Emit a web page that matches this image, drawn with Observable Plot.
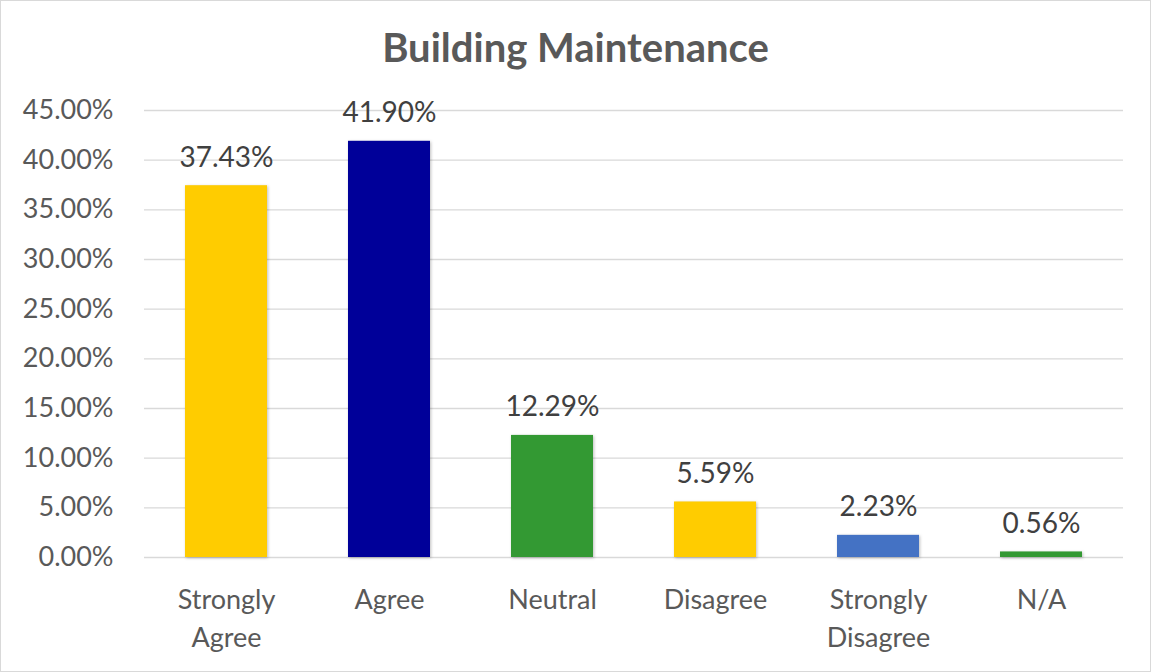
<!DOCTYPE html>
<html>
<head>
<meta charset="utf-8">
<script src="https://cdn.jsdelivr.net/npm/d3@7"></script>
<script src="https://cdn.jsdelivr.net/npm/@observablehq/plot@0.6"></script>
<style>
  html, body { margin: 0; padding: 0; background: #fff; }
  #chart {
    width: 1149px; height: 670px;
    border: 1px solid #d9d9d9;
    font-family: Lato, "Open Sans", sans-serif;
    position: relative; overflow: hidden;
  }
  #title {
    height: 89px; line-height: 92px;
    text-align: center; font-weight: bold; font-size: 40px; color: #595959;
  }
  .bars rect { filter: drop-shadow(1px 1px 1.5px rgba(0,0,0,0.25)); }
</style>
</head>
<body>
<div id="chart"><div id="title">Building Maintenance</div></div>
<script>
const categories = ["Strongly\nAgree", "Agree", "Neutral", "Disagree", "Strongly\nDisagree", "N/A"];
const values = [37.43, 41.90, 12.29, 5.59, 2.23, 0.56];
const colors = ["#FFCC00", "#000099", "#339933", "#FFCC00", "#4472C4", "#339933"];
const yTicks = [0, 5, 10, 15, 20, 25, 30, 35, 40, 45];

const data = categories.map((c, i) => ({category: c, value: values[i], color: colors[i]}));

const plot = Plot.plot({
  width: 1149,
  height: 581,
  marginTop: 20,
  marginBottom: 114,
  marginLeft: 143,
  marginRight: 27,
  style: {fontFamily: "Lato, 'Open Sans', sans-serif", fontSize: "27px", color: "#595959", background: "transparent"},
  x: {domain: categories, paddingInner: 0.5, paddingOuter: 0.25, label: null},
  y: {domain: [0, 45], label: null},
  marks: [
    Plot.gridY(yTicks, {stroke: "#d9d9d9", strokeOpacity: 1, strokeWidth: 1.3}),
    Plot.barY(data, {x: "category", y: "value", fill: "color", className: "bars"}),
    Plot.text(data, {x: "category", y: "value", text: d => d.value.toFixed(2) + "%", lineAnchor: "bottom", dy: -19, fill: "#404040", fontSize: 28}),
    Plot.axisY({ticks: yTicks, tickFormat: d => d.toFixed(2) + "%", tickSize: 0, tickPadding: 31, fontSize: 27, fill: "#595959"}),
    Plot.axisX({tickSize: 0, tickPadding: 25, fontSize: 27, lineHeight: 1.4, fill: "#595959"})
  ]
});
document.getElementById("chart").appendChild(plot);
</script>
</body>
</html>
